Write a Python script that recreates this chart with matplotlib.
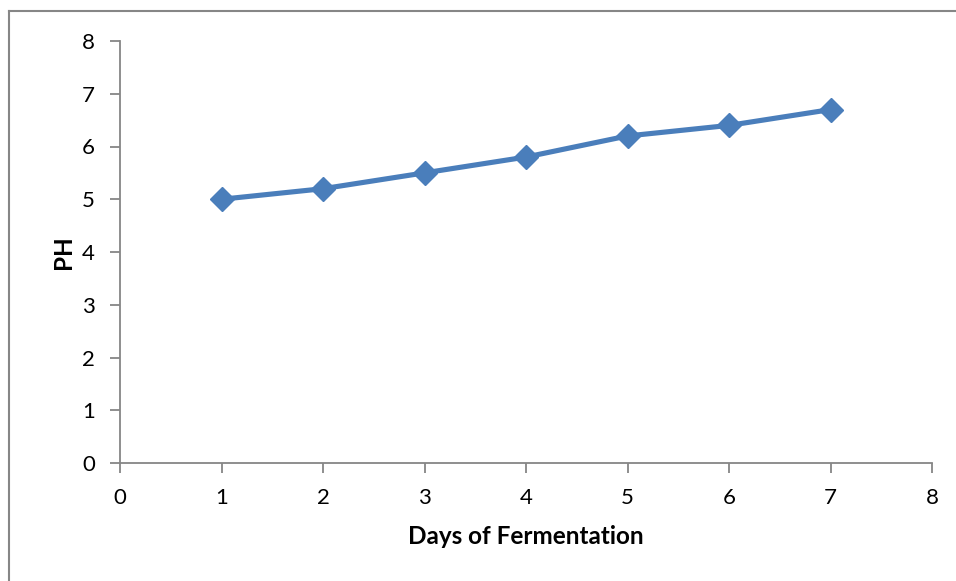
import matplotlib
matplotlib.use("Agg")
import matplotlib.pyplot as plt
from matplotlib.lines import Line2D

days = [1, 2, 3, 4, 5, 6, 7]
ph = [5.0, 5.2, 5.5, 5.8, 6.2, 6.4, 6.7]
xticks = [0, 1, 2, 3, 4, 5, 6, 7, 8]
yticks = [0, 1, 2, 3, 4, 5, 6, 7, 8]

plt.rcParams['font.family'] = ['Lato', 'DejaVu Sans']

fig = plt.figure(figsize=(9.56, 5.81), dpi=100)
ax = fig.add_axes([120/956, 1-463/581, (932-120)/956, (463-41)/581])

ax.plot(days, ph, color='#4A7EBB', lw=3.7, marker='D', markersize=12.5,
        markerfacecolor='#4A7EBB', markeredgecolor='#4A7EBB', solid_joinstyle='round')

ax.set_xlim(0, 8)
ax.set_ylim(0, 8)
ax.set_xticks(xticks)
ax.set_yticks(yticks)
for s in ['top', 'right']:
    ax.spines[s].set_visible(False)
for s in ['left', 'bottom']:
    ax.spines[s].set_color('#868686')
    ax.spines[s].set_linewidth(1.3)
ax.tick_params(axis='both', direction='out', length=7, width=1.3, color='#868686',
               labelsize=16, pad=11, labelcolor='black')
ax.set_xlabel('Days of Fermentation', fontsize=17.5, fontweight='bold', labelpad=12)
ax.set_ylabel('PH', fontsize=17.5, fontweight='bold', labelpad=5)

# outer chart border (partially cropped)
fig.add_artist(Line2D([8.5/956, 8.5/956], [0, 1-10.5/581], transform=fig.transFigure,
                      color='#868686', lw=1.5))
fig.add_artist(Line2D([8.5/956, 1], [1-10.5/581, 1-10.5/581], transform=fig.transFigure,
                      color='#868686', lw=1.5))

fig.savefig('out.png', dpi=100)
